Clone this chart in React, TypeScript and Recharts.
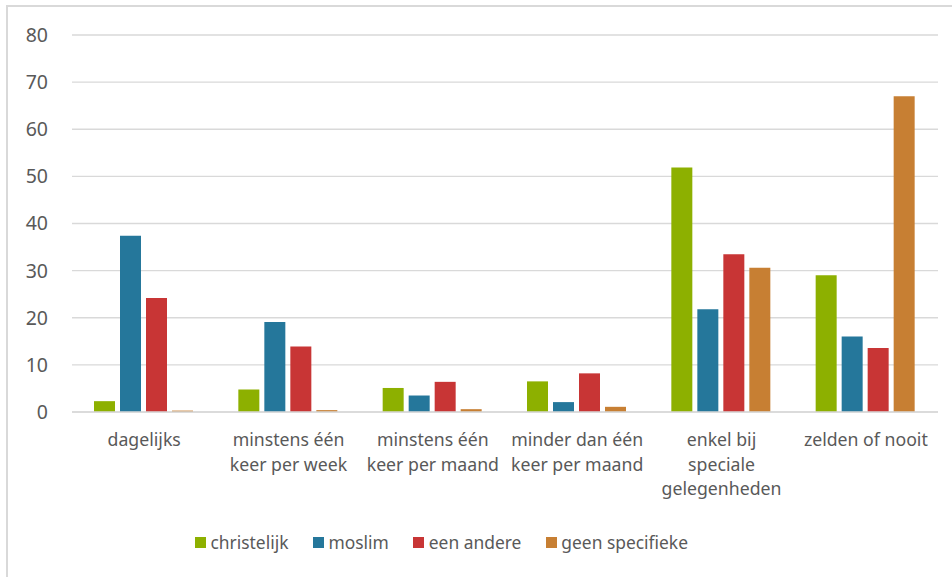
import React from 'react';
import { BarChart, Bar, XAxis, YAxis, CartesianGrid, Legend } from 'recharts';

const categories = [
  'dagelijks',
  'minstens één keer per week',
  'minstens één keer per maand',
  'minder dan één keer per maand',
  'enkel bij speciale gelegenheden',
  'zelden of nooit',
];
const categoryLabelLines = [
  ['dagelijks'],
  ['minstens één', 'keer per week'],
  ['minstens één', 'keer per maand'],
  ['minder dan één', 'keer per maand'],
  ['enkel bij', 'speciale', 'gelegenheden'],
  ['zelden of nooit'],
];
const christelijk = [2.3, 4.8, 5.1, 6.5, 51.9, 29.0];
const moslim = [37.4, 19.1, 3.5, 2.1, 21.8, 16.0];
const eenAndere = [24.2, 13.9, 6.4, 8.2, 33.5, 13.6];
const geenSpecifieke = [0.3, 0.4, 0.6, 1.1, 30.6, 67.0];
const yTicks = [0, 10, 20, 30, 40, 50, 60, 70, 80];
const seriesKeys = ['christelijk', 'moslim', 'eenAndere', 'geenSpecifieke'];
const seriesNames = ['christelijk', 'moslim', 'een andere', 'geen specifieke'];
const seriesColors = ['#8DB000', '#25779B', '#C83535', '#C77F33'];

const data = categories.map((name, i) => ({
  name,
  christelijk: christelijk[i],
  moslim: moslim[i],
  eenAndere: eenAndere[i],
  geenSpecifieke: geenSpecifieke[i],
}));

const FONT = '"Noto Sans", "Open Sans", sans-serif';
const TEXT = '#595959';

const CategoryTick = (props: any) => {
  const { x, y, payload } = props;
  const idx = categories.indexOf(payload.value);
  const lines = idx >= 0 ? categoryLabelLines[idx] : [payload.value];
  return (
    <text x={x} y={y} textAnchor="middle" fill={TEXT} fontSize={17.7} fontFamily={FONT}>
      {lines.map((l: string, i: number) => (
        <tspan key={i} x={x} dy={i === 0 ? 34 : 24.5}>
          {l}
        </tspan>
      ))}
    </text>
  );
};

const LegendContent = () => (
  <div
    style={{
      display: 'flex',
      alignItems: 'center',
      height: 30,
      fontFamily: FONT,
      fontSize: 17.4,
      color: TEXT,
      whiteSpace: 'nowrap',
    }}
  >
    {seriesNames.map((n, i) => (
      <div key={n} style={{ display: 'flex', alignItems: 'center', marginRight: 24.5 }}>
        <span
          style={{
            width: 11,
            height: 11,
            background: seriesColors[i],
            marginRight: 4.5,
            display: 'inline-block',
          }}
        />
        <span>{n}</span>
      </div>
    ))}
  </div>
);

export default function App() {
  return (
    <div
      style={{
        position: 'absolute',
        left: 0,
        top: 0,
        width: 952,
        height: 577,
        overflow: 'hidden',
        background: '#fff',
      }}
    >
      <div
        style={{
          position: 'absolute',
          left: 6,
          top: 5,
          width: 1000,
          height: 700,
          borderLeft: '2px solid #d9d9d9',
          borderTop: '2px solid #d9d9d9',
        }}
      />
      <BarChart
        width={952}
        height={577}
        data={data}
        margin={{ top: 35, right: 14, left: 0, bottom: 20 }}
        barCategoryGap={22}
        barGap={5}
      >
        <CartesianGrid vertical={false} stroke="#d9d9d9" strokeWidth={1.3} />
        <XAxis
          dataKey="name"
          height={115}
          interval={0}
          tickLine={false}
          tickSize={0}
          tickMargin={0}
          axisLine={{ stroke: '#d9d9d9', strokeWidth: 1.5 }}
          tick={<CategoryTick />}
        />
        <YAxis
          width={72}
          domain={[0, 80]}
          ticks={yTicks}
          axisLine={false}
          tickLine={false}
          tickSize={0}
          tickMargin={24}
          tick={{ fill: TEXT, fontSize: 19.5, fontFamily: FONT }}
        />
        <Legend
          verticalAlign="bottom"
          content={<LegendContent />}
          wrapperStyle={{ left: 195, width: 700, bottom: 20, height: 30 }}
        />
        {seriesKeys.map((k, i) => (
          <Bar
            key={k}
            dataKey={k}
            name={seriesNames[i]}
            fill={seriesColors[i]}
            isAnimationActive={false}
          />
        ))}
      </BarChart>
    </div>
  );
}
